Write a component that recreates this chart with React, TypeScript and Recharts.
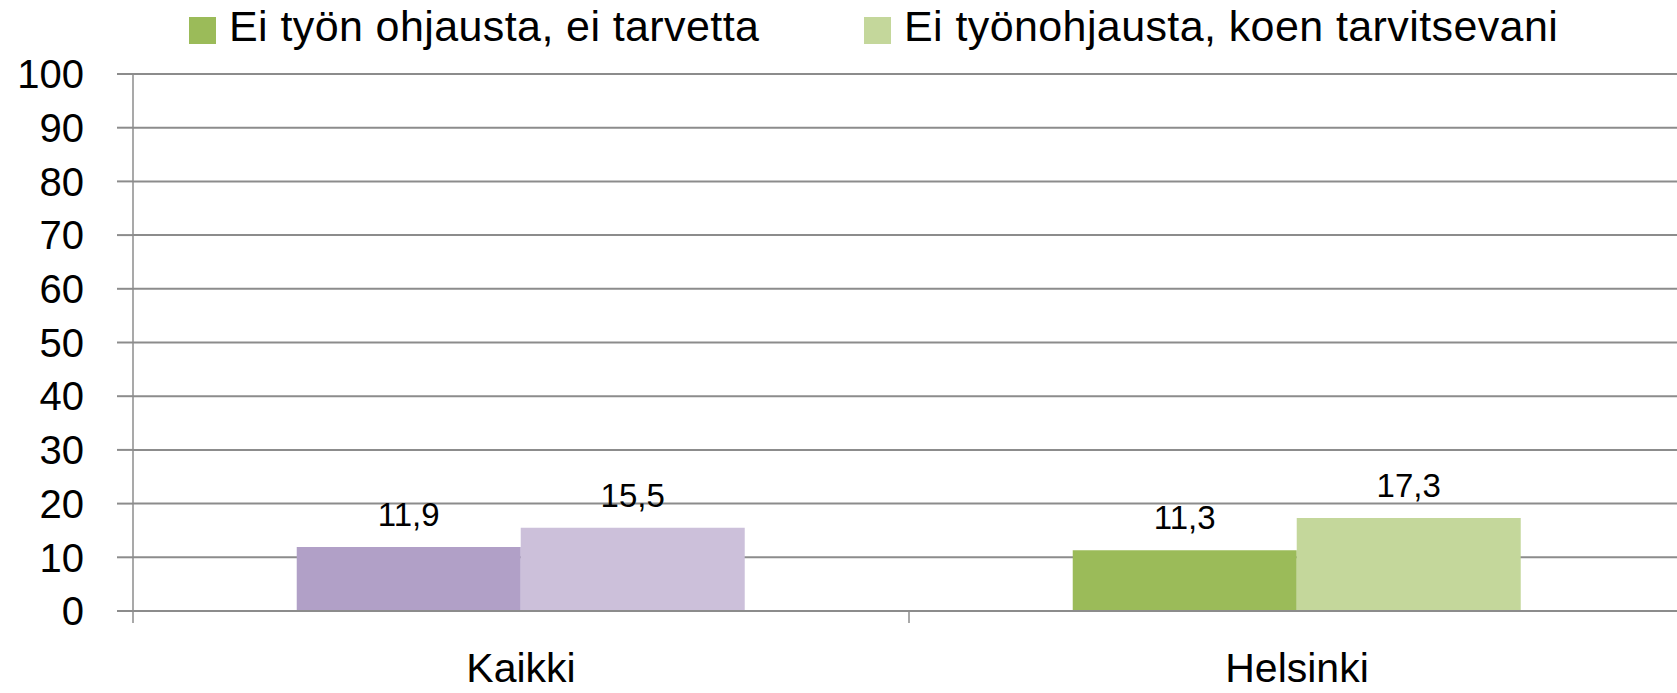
import React from 'react';
import { BarChart, Bar, XAxis, YAxis, CartesianGrid, Cell, LabelList } from 'recharts';

const categories = ['Kaikki', 'Helsinki'];
const noNeedValues = [11.9, 11.3];
const needValues = [15.5, 17.3];
const seriesNames = ['Ei työn ohjausta, ei tarvetta', 'Ei työnohjausta, koen tarvitsevani'];
const yTicks = [0, 10, 20, 30, 40, 50, 60, 70, 80, 90, 100];

// per-category fill, first group is purple in the original
const darkFills = ['#B1A0C7', '#9BBB59'];
const lightFills = ['#CCC0DA', '#C4D79B'];
const legendFills = ['#9BBB59', '#C4D79B'];

const data = categories.map((name, i) => ({
  name,
  noNeed: noNeedValues[i],
  need: needValues[i],
}));

const FONT = '"Liberation Sans", Arial, sans-serif';
const GRID = '#8c8c8c';

const fmt = (v: any) => String(v).replace('.', ',');

const CategoryTick = (props: any) => {
  const { x, y, payload } = props;
  const edge = x - (payload.offset || 0);
  return (
    <g>
      <line x1={edge} x2={edge} y1={y} y2={y + 12} stroke={GRID} strokeWidth={1.5} />
      <text x={x} y={y + 42} dy="0.71em" textAnchor="middle" fill="#000" fontSize={41} fontFamily={FONT}>
        {payload.value}
      </text>
    </g>
  );
};

const legendLeft = [189, 864];

const LegendBox = () => (
  <div style={{ position: 'absolute', left: 0, top: 0, width: 1677, height: 60 }}>
    {seriesNames.map((n, i) => (
      <React.Fragment key={n}>
        <div style={{ position: 'absolute', left: legendLeft[i], top: 17, width: 27, height: 27, background: legendFills[i] }} />
        <div style={{ position: 'absolute', left: legendLeft[i] + 40, top: 5, fontSize: 43, lineHeight: '43px', letterSpacing: 0.4, fontFamily: FONT, color: '#000', whiteSpace: 'nowrap' }}>
          {n}
        </div>
      </React.Fragment>
    ))}
  </div>
);

export default function App() {
  return (
    <div style={{ position: 'fixed', left: 0, top: 0, width: 1677, height: 693, overflow: 'hidden', background: '#fff' }}>
      <BarChart
        width={1700}
        height={693}
        data={data}
        margin={{ top: 74, right: 15, bottom: 0, left: 0 }}
        barCategoryGap="21.1%"
        barGap={0}
      >
        <CartesianGrid horizontal vertical={false} stroke={GRID} strokeWidth={2} />
        <XAxis
          dataKey="name"
          height={82}
          axisLine={{ stroke: GRID, strokeWidth: 2 }}
          tickLine={false}
          tickSize={0}
          tickMargin={0}
          tick={<CategoryTick />}
          interval={0}
        />
        <YAxis
          width={133}
          domain={[0, 100]}
          ticks={yTicks}
          interval={0}
          axisLine={{ stroke: GRID, strokeWidth: 1.5 }}
          tickLine={{ stroke: GRID, strokeWidth: 2 }}
          tickSize={16}
          tickMargin={33}
          tick={{ fill: '#000', fontSize: 40, fontFamily: FONT }}
        />
        <Bar dataKey="noNeed" name={seriesNames[0]} isAnimationActive={false}>
          {data.map((d, i) => (
            <Cell key={d.name} fill={darkFills[i]} />
          ))}
          <LabelList dataKey="noNeed" position="top" offset={21} formatter={fmt} fill="#000" fontSize={33} fontFamily={FONT} />
        </Bar>
        <Bar dataKey="need" name={seriesNames[1]} isAnimationActive={false}>
          {data.map((d, i) => (
            <Cell key={d.name} fill={lightFills[i]} />
          ))}
          <LabelList dataKey="need" position="top" offset={21} formatter={fmt} fill="#000" fontSize={33} fontFamily={FONT} />
        </Bar>
      </BarChart>
      <LegendBox />
    </div>
  );
}
